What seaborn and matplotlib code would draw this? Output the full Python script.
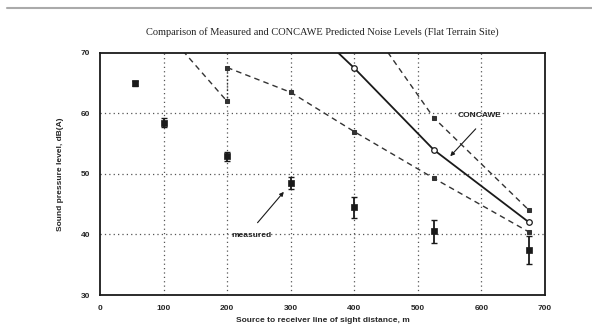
import numpy as np
import pandas as pd
import matplotlib
matplotlib.use("Agg")
import matplotlib.pyplot as plt
import seaborn as sns
from matplotlib.lines import Line2D

# ---- data ----
meas_x = [55, 100, 200, 300, 400, 525, 675]
meas_y = [65.0, 58.5, 52.9, 48.5, 44.5, 40.5, 37.4]
meas_err = [0.4, 0.7, 0.8, 1.0, 1.7, 1.9, 2.3]

concawe_x = [300, 400, 525, 675]
concawe_y = [77.5, 67.5, 54.0, 42.0]

upper_x = [400, 525, 675]
upper_y = [78.0, 59.3, 44.0]

lowleft_x = [100, 200]
lowleft_y = [74.0, 62.0]

lower_x = [200, 300, 400, 525, 675]
lower_y = [67.6, 63.5, 57.0, 49.3, 40.4]

link_x = [200, 200]
link_y = [62.0, 67.6]

x_ticks = [0, 100, 200, 300, 400, 500, 600, 700]
y_ticks = [30, 40, 50, 60, 70]

title = "Comparison of Measured and CONCAWE Predicted Noise Levels (Flat Terrain Site)"
xlabel = "Source to receiver line of sight distance, m"
ylabel = "Sound pressure level, dB(A)"

# ---- style ----
sns.set_theme(style="white")
plt.rcParams["font.family"] = ["Liberation Sans", "DejaVu Sans"]

fig = plt.figure(figsize=(5.92, 3.28), dpi=100)
ax = fig.add_axes([100 / 592, 1 - 295 / 328, 445 / 592, 242 / 328])

ink = "#1a1a1a"

# grid (dotted)
for gx in x_ticks[1:-1]:
    ax.axvline(gx, color="#555555", lw=0.9, ls=(0, (1, 2.5)), zorder=0)
for gy in y_ticks[1:-1]:
    ax.axhline(gy, color="#555555", lw=0.9, ls=(0, (1, 2.5)), zorder=0)

# CONCAWE solid line
sns.lineplot(x=concawe_x, y=concawe_y, ax=ax, estimator=None, sort=False,
             color=ink, lw=1.3, marker="o", markersize=4,
             markerfacecolor="white", markeredgecolor=ink, markeredgewidth=0.9)
# upper dashed
sns.lineplot(x=upper_x, y=upper_y, ax=ax, estimator=None, sort=False,
             color="#333333", lw=1.0, dashes=False, linestyle=(0, (4, 3)),
             marker="s", markersize=2.5, markeredgecolor="#333333")
# lower dashed (left segment)
sns.lineplot(x=lowleft_x, y=lowleft_y, ax=ax, estimator=None, sort=False,
             color="#333333", lw=1.0, linestyle=(0, (4, 3)),
             marker="s", markersize=2.5, markeredgecolor="#333333")
# lower dashed (right)
sns.lineplot(x=lower_x, y=lower_y, ax=ax, estimator=None, sort=False,
             color="#333333", lw=1.0, linestyle=(0, (4, 3)),
             marker="s", markersize=2.5, markeredgecolor="#333333")
# dotted link at 200 m
sns.lineplot(x=link_x, y=link_y, ax=ax, estimator=None, sort=False,
             color="#333333", lw=1.0, linestyle=(0, (1, 1.5)))

# measured points with error bars
ax.errorbar(meas_x, meas_y, yerr=meas_err, fmt="none", ecolor=ink,
            elinewidth=1.3, capsize=2.2, capthick=1.0, zorder=4)
sns.scatterplot(x=meas_x, y=meas_y, ax=ax, marker="s", s=14, color=ink,
                edgecolor=ink, linewidth=0.5, zorder=5)

# annotations
ax.text(206, 39.9, "measured", fontsize=6, fontweight="bold", color="#222222",
        ha="left", va="center")
ax.annotate("", xy=(292, 47.4), xytext=(245, 41.6),
            arrowprops=dict(arrowstyle="-|>", lw=0.8, color=ink,
                            mutation_scale=6))
ax.text(597, 59.6, "CONCAWE", fontsize=6, fontweight="bold", color="#222222",
        ha="center", va="center")
ax.annotate("", xy=(548, 52.6), xytext=(594, 57.8),
            arrowprops=dict(arrowstyle="-|>", lw=0.8, color=ink,
                            mutation_scale=6))

ax.set_xlim(0, 700)
ax.set_ylim(30, 70)
ax.set_xticks(x_ticks)
ax.set_yticks(y_ticks)
ax.set_xticklabels([str(v) for v in x_ticks], fontsize=6, fontweight="bold")
ax.set_yticklabels([str(v) for v in y_ticks], fontsize=6, fontweight="bold")
ax.tick_params(length=0, pad=7)

for sp in ax.spines.values():
    sp.set_color(ink)
    sp.set_linewidth(1.3)
    sp.set_visible(True)

ax.set_xlabel(xlabel, fontsize=6, fontweight="bold", labelpad=4)
ax.set_ylabel(ylabel, fontsize=6, fontweight="bold", labelpad=12)
ax.set_title(title, fontsize=7.5, family=["Liberation Serif", "DejaVu Serif"],
             pad=13, color="#222222")

fig.add_artist(Line2D([0.012, 1.0], [1 - 8 / 328, 1 - 8 / 328],
                      color="#aaaaaa", lw=1.5, transform=fig.transFigure))

fig.savefig("out.png", dpi=100, facecolor="white")
